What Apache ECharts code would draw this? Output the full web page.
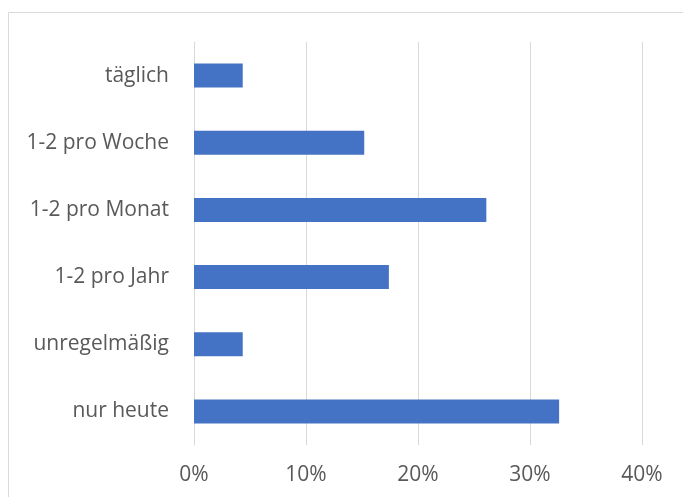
<!DOCTYPE html>
<html>
<head>
<meta charset="utf-8">
<script src="https://cdn.jsdelivr.net/npm/echarts@6/dist/echarts.min.js"></script>
<style>
html,body{margin:0;padding:0;background:#fff;}
#c{width:683px;height:497px;}
</style>
</head>
<body>
<div id="c"></div>
<script>
const categories = ['täglich', '1-2 pro Woche', '1-2 pro Monat', '1-2 pro Jahr', 'unregelmäßig', 'nur heute'];
const values = [4.35, 15.2, 26.1, 17.4, 4.35, 32.6];
const xTicks = [0, 10, 20, 30, 40];

const chart = echarts.init(document.getElementById('c'), null, {renderer: 'canvas'});
chart.setOption({
  animation: false,
  backgroundColor: '#ffffff',
  graphic: [{
    type: 'rect', z: -10,
    shape: {x: 8.5, y: 12.5, width: 800, height: 600},
    style: {fill: 'none', stroke: '#d9d9d9', lineWidth: 1}
  }],
  grid: {left: 194, right: 41, top: 42, bottom: 52},
  xAxis: {
    type: 'value', min: xTicks[0], max: xTicks[xTicks.length - 1], interval: 10,
    axisLine: {show: false}, axisTick: {show: false},
    splitLine: {show: true, lineStyle: {color: '#d9d9d9', width: 1}},
    axisLabel: {formatter: v => v + '%', color: '#595959', fontSize: 21, margin: 20, fontFamily: 'Open Sans'}
  },
  yAxis: {
    type: 'category', data: categories, inverse: true,
    axisLine: {show: true, lineStyle: {color: '#d9d9d9'}}, axisTick: {show: false},
    axisLabel: {color: '#595959', fontSize: 21, margin: 25, fontFamily: 'Open Sans'}
  },
  series: [{
    type: 'bar', data: values, barWidth: 24,
    itemStyle: {color: '#4472C4'}
  }]
});
</script>
</body>
</html>
